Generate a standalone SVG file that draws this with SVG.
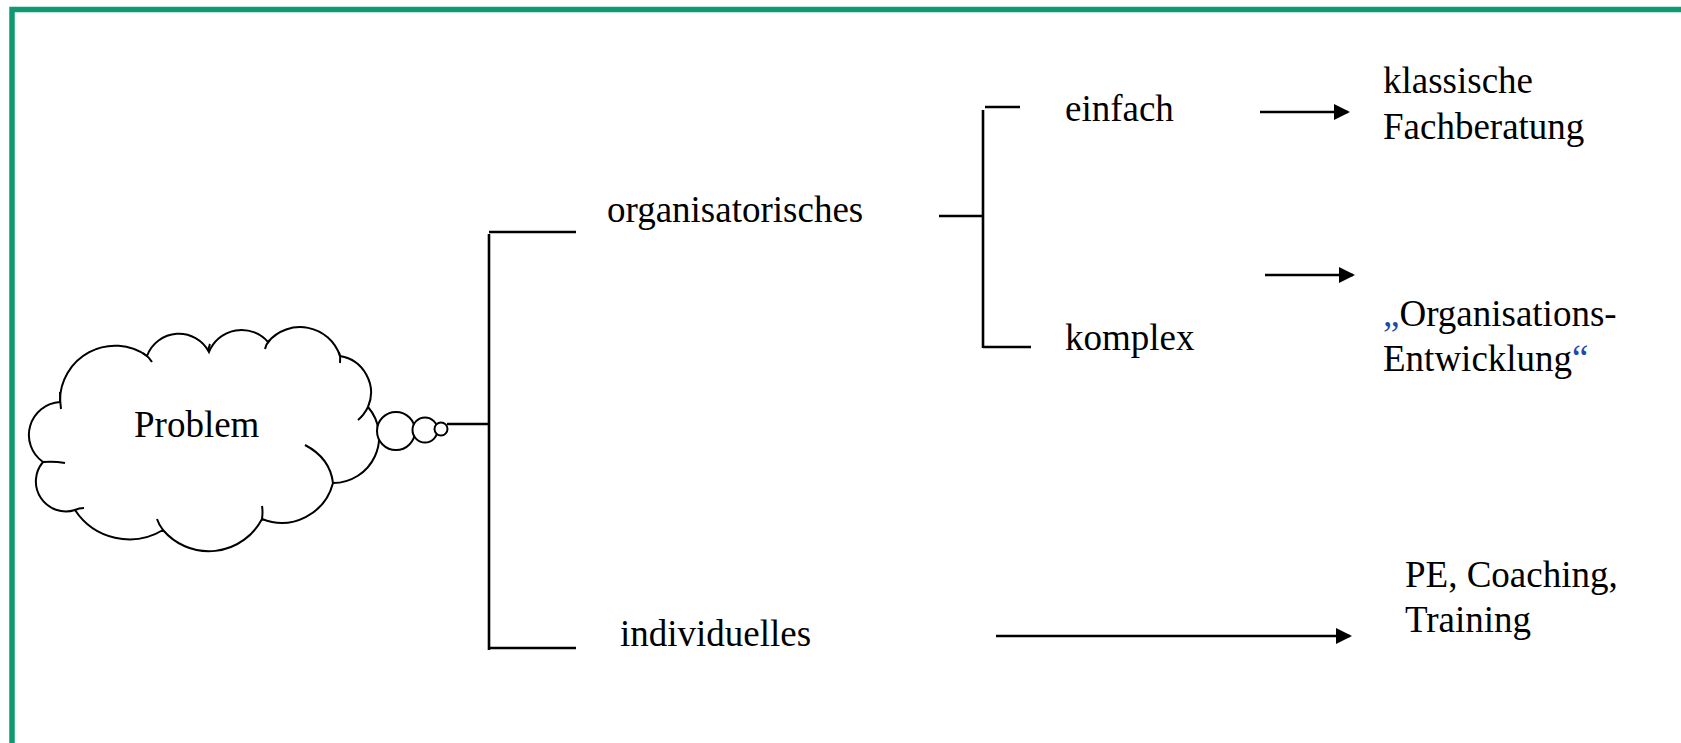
<svg xmlns="http://www.w3.org/2000/svg" width="1681" height="743" viewBox="0 0 1681 743">
  <style>
    .lbl { font-family: "Liberation Serif", "Times New Roman", serif; font-size: 37px; fill: #000; }
    .q { fill: #1c4aa8; }
    .ln { stroke: #000; stroke-width: 2.6; fill: none; }
    .cloud { stroke: #000; stroke-width: 2; fill: #fff; }
    .tail { stroke: #000; stroke-width: 2; fill: none; }
  </style>
  <defs>
    <marker id="arrow" markerWidth="16" markerHeight="16" refX="14" refY="8" orient="auto" markerUnits="userSpaceOnUse">
      <path d="M0,0 L16,8 L0,16 Z" fill="#000"/>
    </marker>
  </defs>

  <rect width="1681" height="743" fill="#fff"/>

  <!-- frame: top and left edges -->
  <path d="M12,743 V9.5 H1681" fill="none" stroke="#0f9a72" stroke-width="5.5"/>

  <!-- thought cloud -->
  <g id="problem">
    <path class="cloud" d="M60,402
      A55,55 0 0,1 147,356
      A34,34 0 0,1 209,352
      A35,35 0 0,1 268,342
      A42,42 0 0,1 340,356
      A37,37 0 0,1 368,407
      A46,46 0 0,1 333,483
      A53,53 0 0,1 262,519
      A60,60 0 0,1 163,530
      A65,65 0 0,1 75,510
      A30,30 0 0,1 43,462
      A33,33 0 0,1 60,402 Z"/>
    <path class="tail" d="M60,392 Q60,402 61,409"/>
    <path class="tail" d="M143,353 Q149,357 152,362"/>
    <path class="tail" d="M209,352 Q208,348 210,344"/>
    <path class="tail" d="M270,340 Q266,344 265,349"/>
    <path class="tail" d="M339,352 Q341,357 340,363"/>
    <path class="tail" d="M368,407 Q364,415 358,420"/>
    <path class="tail" d="M333,483 Q330,458 305,445"/>
    <path class="tail" d="M262,519 Q263,512 262,506"/>
    <path class="tail" d="M163,530 Q159,525 157,519"/>
    <path class="tail" d="M75,510 Q79,508 84,508"/>
    <path class="tail" d="M43,462 Q54,461 65,463"/>
    <circle class="cloud" cx="396" cy="431" r="19"/>
    <circle class="cloud" cx="425" cy="430" r="12.5"/>
    <circle class="cloud" cx="441" cy="429" r="6.5"/>
    <text class="lbl" x="134" y="437">Problem</text>
  </g>

  <g id="organisatorisches">
    <text class="lbl" x="607" y="222">organisatorisches</text>
  </g>
  <g id="individuelles">
    <text class="lbl" x="620" y="646">individuelles</text>
  </g>
  <g id="einfach">
    <text class="lbl" x="1065" y="121">einfach</text>
  </g>
  <g id="komplex">
    <text class="lbl" x="1065" y="350">komplex</text>
  </g>
  <g id="fachberatung">
    <text class="lbl" x="1383" y="93">klassische</text>
    <text class="lbl" x="1383" y="139">Fachberatung</text>
  </g>
  <g id="oe">
    <text class="lbl" x="1383" y="326"><tspan class="q">„</tspan>Organisations-</text>
    <text class="lbl" x="1383" y="371">Entwicklung<tspan class="q">“</tspan></text>
  </g>
  <g id="pe">
    <text class="lbl" x="1405" y="587">PE, Coaching,</text>
    <text class="lbl" x="1405" y="632">Training</text>
  </g>

  <g id="connectors">
    <!-- cloud to main branch -->
    <path class="ln" d="M447,424 H489"/>
    <path class="ln" d="M489,234 V650"/>
    <path class="ln" d="M489,232 H576"/>
    <path class="ln" d="M489,648 H576"/>
    <!-- organisational split -->
    <path class="ln" d="M939,216 H983"/>
    <path class="ln" d="M983,110 V348"/>
    <path class="ln" d="M985,107 H1020"/>
    <path class="ln" d="M983,347 H1031"/>
    <!-- arrows to the results -->
    <path class="ln" d="M1260,112 H1348" marker-end="url(#arrow)"/>
    <path class="ln" d="M1265,275 H1353" marker-end="url(#arrow)"/>
    <path class="ln" d="M996,636 H1350" marker-end="url(#arrow)"/>
  </g>
</svg>
